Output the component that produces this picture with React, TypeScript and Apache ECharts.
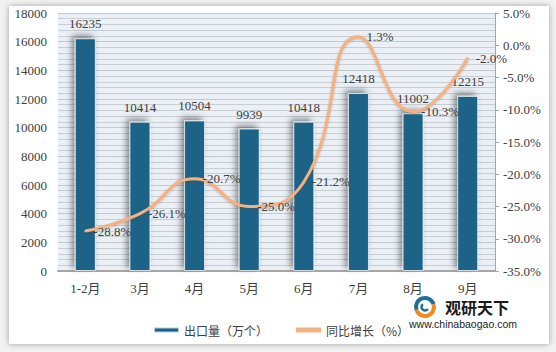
import React, { useEffect, useRef } from "react";
import * as echarts from "echarts";

const categories = ["1-2月", "3月", "4月", "5月", "6月", "7月", "8月", "9月"];
const exportVolume = [16235, 10414, 10504, 9939, 10418, 12418, 11002, 12215];
const yoyGrowth = [-28.8, -26.1, -20.7, -25.0, -21.2, 1.3, -10.3, -2.0];
const barName = "出口量（万个）";
const lineName = "同比增长（%）";

const FONT = "Liberation Serif, Noto Sans CJK SC, serif";

export default function App() {
  const ref = useRef<HTMLDivElement>(null);
  useEffect(() => {
    if (!ref.current) return;
    const chart = echarts.init(ref.current, undefined, { renderer: "svg" });
    chart.setOption({
      animation: false,
      textStyle: { fontFamily: FONT },
      grid: {
        left: 58,
        right: 61,
        top: 13,
        bottom: 81,
        show: true,
        backgroundColor: "#ebf0f6",
        borderWidth: 0,
      },
      legend: {
        left: 148,
        top: 319,
        itemWidth: 25,
        itemHeight: 5,
        itemGap: 28,
        textStyle: { fontSize: 12, color: "#404040", fontFamily: "Noto Sans CJK SC, sans-serif" },
        data: [
          { name: barName, icon: "rect" },
          { name: lineName, icon: "rect" },
        ],
      },
      xAxis: {
        type: "category",
        data: categories,
        axisLine: { show: true, lineStyle: { color: "#a6a6a6", width: 2 } },
        axisTick: { show: false },
        axisLabel: { fontSize: 13, color: "#404040", margin: 11, fontFamily: FONT },
      },
      yAxis: [
        {
          type: "value",
          min: 0,
          max: 18000,
          interval: 2000,
          axisLine: { show: false },
          axisTick: { show: false },
          axisLabel: {
            fontSize: 13,
            color: "#404040",
            margin: 11,
            fontFamily: FONT,
            formatter: (v: number) => String(v),
          },
          splitLine: { show: true, lineStyle: { color: "#c3c8cd", width: 1 } },
          minorTick: { show: false, splitNumber: 5 },
          minorSplitLine: { show: true, lineStyle: { color: "#c9ced3", width: 1 } },
        },
        {
          type: "value",
          min: -35,
          max: 5,
          interval: 5,
          position: "right",
          axisLine: { show: true, lineStyle: { color: "#a6a6a6", width: 1 } },
          axisTick: { show: true, inside: false, length: 4, lineStyle: { color: "#a6a6a6" } },
          axisLabel: {
            fontSize: 13,
            color: "#404040",
            margin: 8,
            fontFamily: FONT,
            formatter: (v: number) => v.toFixed(1) + "%",
          },
          splitLine: { show: false },
        },
      ],
      series: [
        {
          name: barName,
          type: "bar",
          data: exportVolume,
          barWidth: 21,
          itemStyle: {
            color: "#1b6487",
            borderColor: "rgba(255,255,255,0.7)",
            borderWidth: 1,
            shadowColor: "rgba(0,0,0,0.45)",
            shadowBlur: 6,
            shadowOffsetX: -3,
            shadowOffsetY: -3,
          },
          label: {
            show: true,
            position: "top",
            distance: 8,
            fontSize: 13,
            color: "#404040",
            fontFamily: FONT,
          },
          z: 2,
        },
        {
          name: lineName,
          type: "line",
          yAxisIndex: 1,
          data: yoyGrowth,
          smooth: 0.5,
          showSymbol: true,
          symbol: "circle",
          symbolSize: 2,
          lineStyle: {
            color: "#f4b183",
            width: 3,
            shadowColor: "rgba(120,60,20,0.35)",
            shadowBlur: 2,
            shadowOffsetY: 1,
          },
          itemStyle: { color: "#f4b183" },
          label: {
            show: true,
            position: "right",
            distance: 7,
            fontSize: 13,
            color: "#404040",
            fontFamily: FONT,
            formatter: (p: any) => Number(p.value).toFixed(1) + "%",
          },
          z: 3,
        },
      ],
      graphic: [
        {
          type: "arc",
          shape: { cx: 425, cy: 307, r: 9, startAngle: Math.PI * 0.9, endAngle: Math.PI * 1.9 },
          style: { stroke: "#1f6f9a", lineWidth: 4, fill: "none" },
        },
        {
          type: "arc",
          shape: { cx: 425, cy: 307, r: 9, startAngle: -Math.PI * 0.1, endAngle: Math.PI * 0.9 },
          style: { stroke: "#f08a1c", lineWidth: 4, fill: "none" },
        },
        {
          type: "arc",
          shape: { cx: 425, cy: 307, r: 3.5, startAngle: Math.PI * 0.2, endAngle: Math.PI * 1.3 },
          style: { stroke: "#1f6f9a", lineWidth: 2.5, fill: "none" },
        },
        {
          type: "text",
          x: 445,
          y: 299,
          style: {
            text: "观研天下",
            font: "bold 16px Noto Sans CJK SC, sans-serif",
            fill: "#1a1a1a",
          },
        },
        {
          type: "text",
          x: 409,
          y: 318,
          style: {
            text: "www.chinabaogao.com",
            font: "10.5px Liberation Sans, Arial, sans-serif",
            fill: "#222",
          },
        },
      ],
    });
    return () => chart.dispose();
  }, []);

  return (
    <div style={{ position: "fixed", left: 0, top: 0, width: 556, height: 352, background: "#f2f2f2" }}>
      <div
        style={{
          position: "absolute",
          left: 9,
          top: 6,
          width: 540,
          height: 338,
          background: "#ffffff",
          boxShadow: "0 0 6px rgba(0,0,0,0.35)",
        }}
      />
      <div ref={ref} style={{ position: "absolute", left: 0, top: 0, width: 556, height: 352 }} />
    </div>
  );
}
